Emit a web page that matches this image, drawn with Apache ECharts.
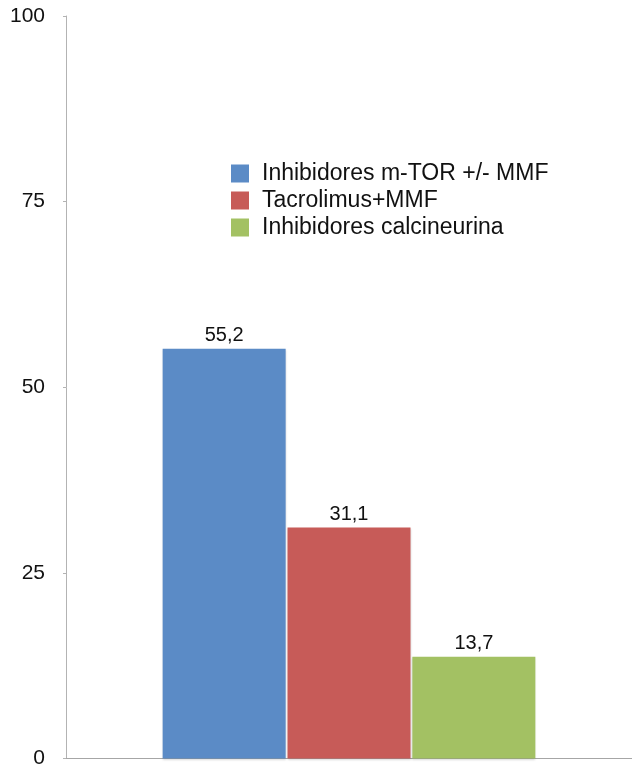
<!DOCTYPE html>
<html>
<head>
<meta charset="utf-8">
<script src="https://cdn.jsdelivr.net/npm/echarts@6/dist/echarts.min.js"></script>
<style>
  html, body { margin: 0; padding: 0; background: #fff; }
  #chart { width: 632px; height: 769px; }
</style>
</head>
<body>
<div id="chart"></div>
<script>
// data
const seriesNames = ['Inhibidores m-TOR +/- MMF', 'Tacrolimus+MMF', 'Inhibidores calcineurina'];
const seriesValues = [55.2, 31.1, 13.7];
const seriesColors = ['#5b8bc6', '#c75b58', '#a3c163'];
const yTicks = [0, 25, 50, 75, 100];

const chart = echarts.init(document.getElementById('chart'));

const option = {
  animation: false,
  textStyle: { fontFamily: 'Liberation Sans, Arial, sans-serif' },
  legend: {
    orient: 'vertical',
    left: 226,
    top: 157,
    itemWidth: 18,
    itemHeight: 18,
    itemGap: 4,
    icon: 'rect',
    textStyle: { fontSize: 23, color: '#111', padding: [0, 0, 0, 8] },
    data: seriesNames,
  },
  grid: { left: 66, right: 0, top: 16, bottom: 9 },
  xAxis: {
    type: 'category',
    data: [''],
    axisLine: { lineStyle: { color: '#a6a6a6', width: 1 } },
    axisTick: { show: false },
    axisLabel: { show: false },
  },
  yAxis: {
    type: 'value',
    min: yTicks[0],
    max: yTicks[yTicks.length - 1],
    interval: 25,
    axisLine: { show: true, lineStyle: { color: '#b3b3b3', width: 1 } },
    axisTick: { show: true, length: 3, lineStyle: { color: '#b3b3b3' } },
    axisLabel: { fontSize: 21, color: '#111', margin: 21 },
    splitLine: { show: false },
  },
  series: seriesNames.map((name, i) => ({
    name,
    type: 'bar',
    data: [seriesValues[i]],
    barWidth: 123,
    barGap: '1.5%',
    itemStyle: {
      color: seriesColors[i],
      shadowColor: 'rgba(0,0,0,0.15)',
      shadowBlur: 2,
      shadowOffsetY: 1,
    },
    label: {
      show: true,
      position: 'top',
      distance: 3,
      fontSize: 20,
      color: '#111',
      formatter: (p) => String(p.value).replace('.', ','),
    },
  })),
};

chart.setOption(option);
</script>
</body>
</html>
